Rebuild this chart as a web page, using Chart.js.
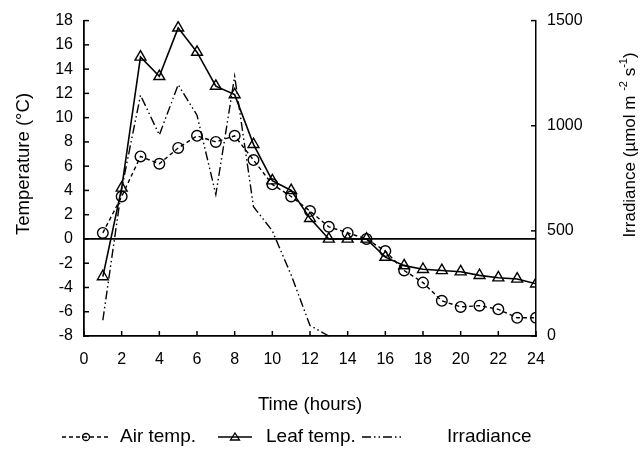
<!DOCTYPE html>
<html>
<head>
<meta charset="utf-8">
<script src="https://cdn.jsdelivr.net/npm/chart.js@4/dist/chart.umd.min.js"></script>
<style>
html,body{margin:0;padding:0;background:#fff;}
#wrap{width:644px;height:450px;position:relative;}
</style>
</head>
<body>
<div id="wrap"><canvas id="c" width="644" height="450"></canvas></div>
<script>
// ---- data ----
const hours = [1,2,3,4,5,6,7,8,9,10,11,12,13,14,15,16,17,18,19,20,21,22,23,24];
const airTemp = [0.5,3.5,6.8,6.2,7.5,8.5,8.0,8.5,6.5,4.5,3.5,2.3,1.0,0.5,0.0,-1.0,-2.6,-3.6,-5.1,-5.6,-5.5,-5.8,-6.5,-6.5];
const leafTemp = [-3.1,4.2,15.0,13.4,17.4,15.4,12.6,11.9,7.8,4.8,4.0,1.7,0.0,0.0,0.0,-1.5,-2.2,-2.5,-2.6,-2.7,-3.0,-3.2,-3.3,-3.7];
const irrHours = [1,2,3,4,5,6,7,8,9,10,11,12,13];
const irradiance = [75,700,1145,956,1195,1050,673,1235,615,500,290,50,0];
const seriesLabels = ['Air temp.','Leaf temp.','Irradiance'];
const xTickLabels = ['0','2','4','6','8','10','12','14','16','18','20','22','24'];
const tempTitle = 'Temperature (°C)';
const timeTitle = 'Time (hours)';

const FONT = "'Liberation Sans', Arial, Helvetica, sans-serif";
const INK = '#000';

const toXY = (xs, ys) => xs.map((x, i) => ({x: x, y: ys[i]}));

// inward tick marks drawn from the library's own scales
const inwardTicks = {
  id: 'inwardTicks',
  afterDraw(chart) {
    const ctx = chart.ctx, a = chart.chartArea, L = 5;
    ctx.save();
    ctx.strokeStyle = INK;
    ctx.lineWidth = 1.5;
    ctx.setLineDash([]);
    const sx = chart.scales.x;
    sx.ticks.forEach(t => {
      const p = sx.getPixelForValue(t.value);
      ctx.beginPath(); ctx.moveTo(p, a.bottom); ctx.lineTo(p, a.bottom - L); ctx.stroke();
    });
    const sy = chart.scales.y;
    sy.ticks.forEach(t => {
      const p = sy.getPixelForValue(t.value);
      ctx.beginPath(); ctx.moveTo(a.left, p); ctx.lineTo(a.left + L, p); ctx.stroke();
    });
    const sr = chart.scales.yR;
    sr.ticks.forEach(t => {
      const p = sr.getPixelForValue(t.value);
      ctx.beginPath(); ctx.moveTo(a.right, p); ctx.lineTo(a.right - L, p); ctx.stroke();
    });
    ctx.restore();
  }
};

// axis titles (both read bottom-to-top) and the legend row
const annotations = {
  id: 'annotations',
  afterDraw(chart) {
    const ctx = chart.ctx;
    ctx.save();
    ctx.fillStyle = INK;
    ctx.strokeStyle = INK;
    // left title
    ctx.save();
    ctx.translate(24, 164);
    ctx.rotate(-Math.PI / 2);
    ctx.font = '18.5px ' + FONT;
    ctx.textAlign = 'center';
    ctx.textBaseline = 'middle';
    ctx.fillText(tempTitle, 0, 0);
    ctx.restore();
    // right title with superscripts
    ctx.save();
    ctx.translate(630, 145);
    ctx.rotate(-Math.PI / 2);
    const big = '17px ' + FONT, small = '11px ' + FONT;
    const parts = [['Irradiance (µmol m ', big, 0], ['-2', small, -6], [' s', big, 0], ['-1', small, -6], [')', big, 0]];
    let w = 0;
    parts.forEach(p => { ctx.font = p[1]; w += ctx.measureText(p[0]).width; });
    let x = -w / 2;
    ctx.textBaseline = 'middle';
    ctx.textAlign = 'left';
    parts.forEach(p => { ctx.font = p[1]; ctx.fillText(p[0], x, p[2]); x += ctx.measureText(p[0]).width; });
    ctx.restore();

    // legend
    const ly = 437;
    ctx.font = '19px ' + FONT;
    ctx.textBaseline = 'middle';
    ctx.textAlign = 'left';
    ctx.lineWidth = 1.3;
    // air
    ctx.setLineDash([4, 3]);
    ctx.beginPath(); ctx.moveTo(62, ly); ctx.lineTo(110, ly); ctx.stroke();
    ctx.setLineDash([]);
    ctx.beginPath(); ctx.arc(86, ly, 3.5, 0, Math.PI * 2); ctx.stroke();
    ctx.fillText(seriesLabels[0], 120, ly);
    // leaf
    ctx.beginPath(); ctx.moveTo(218, ly); ctx.lineTo(252, ly); ctx.stroke();
    ctx.beginPath(); ctx.moveTo(235, ly - 4); ctx.lineTo(239.5, ly + 3); ctx.lineTo(230.5, ly + 3); ctx.closePath(); ctx.stroke();
    ctx.fillText(seriesLabels[1], 266, ly);
    // irradiance
    ctx.setLineDash([9, 3, 1.5, 3, 1.5, 3]);
    ctx.beginPath(); ctx.moveTo(362, ly); ctx.lineTo(402, ly); ctx.stroke();
    ctx.setLineDash([]);
    ctx.fillText(seriesLabels[2], 447, ly);
    ctx.restore();
  }
};

new Chart(document.getElementById('c'), {
  type: 'line',
  data: {
    datasets: [
      {
        label: seriesLabels[0],
        data: toXY(hours, airTemp),
        yAxisID: 'y',
        borderColor: INK,
        borderWidth: 1.4,
        borderDash: [4, 3],
        pointStyle: 'circle',
        pointRadius: 5.3,
        pointBorderWidth: 1.4,
        pointBorderColor: INK,
        pointBackgroundColor: 'rgba(0,0,0,0)',
        tension: 0
      },
      {
        label: seriesLabels[1],
        data: toXY(hours, leafTemp),
        yAxisID: 'y',
        borderColor: INK,
        borderWidth: 1.6,
        pointStyle: 'triangle',
        pointRadius: 6.3,
        pointBorderWidth: 1.4,
        pointBorderColor: INK,
        pointBackgroundColor: 'rgba(0,0,0,0)',
        tension: 0
      },
      {
        label: seriesLabels[2],
        data: toXY(irrHours, irradiance),
        yAxisID: 'yR',
        borderColor: INK,
        borderWidth: 1.4,
        borderDash: [9, 3, 1.5, 3, 1.5, 3],
        pointRadius: 0,
        tension: 0,
        clip: false
      }
    ]
  },
  options: {
    responsive: false,
    animation: false,
    events: [],
    layout: {padding: {top: 18, left: 0, right: 0, bottom: 0}},
    plugins: {legend: {display: false}, tooltip: {enabled: false}},
    scales: {
      x: {
        type: 'linear',
        min: 0, max: 24,
        afterFit(s) { s.height = 114; },
        afterBuildTicks(s) { s.ticks = xTickLabels.map(v => ({value: Number(v)})); },
        ticks: {stepSize: 2, color: INK, font: {family: FONT, size: 16}, padding: 14, maxRotation: 0, autoSkip: false,
                callback: (v) => String(v)},
        grid: {display: true, drawOnChartArea: false, drawTicks: false},
        border: {display: true, color: INK, width: 1.8},
        title: {display: true, text: timeTitle, color: INK, font: {family: FONT, size: 18.5}, padding: {top: 0, bottom: 34}}
      },
      y: {
        position: 'left',
        min: -8, max: 18,
        afterFit(s) { s.width = 84; },
        ticks: {stepSize: 2, color: INK, font: {family: FONT, size: 16}, padding: 11, callback: (v) => String(v)},
        grid: {drawTicks: false, lineWidth: 1.8,
               color: (c) => (c.tick && c.tick.value === 0) ? INK : 'rgba(0,0,0,0)'},
        border: {display: true, color: INK, width: 1.8}
      },
      yR: {
        position: 'right',
        min: 0, max: 1500,
        afterFit(s) { s.width = 108; },
        ticks: {stepSize: 500, color: INK, font: {family: FONT, size: 16}, padding: 11, callback: (v) => String(v)},
        grid: {drawOnChartArea: false, drawTicks: false},
        border: {display: true, color: INK, width: 1.5}
      }
    }
  },
  plugins: [inwardTicks, annotations]
});
</script>
</body>
</html>
